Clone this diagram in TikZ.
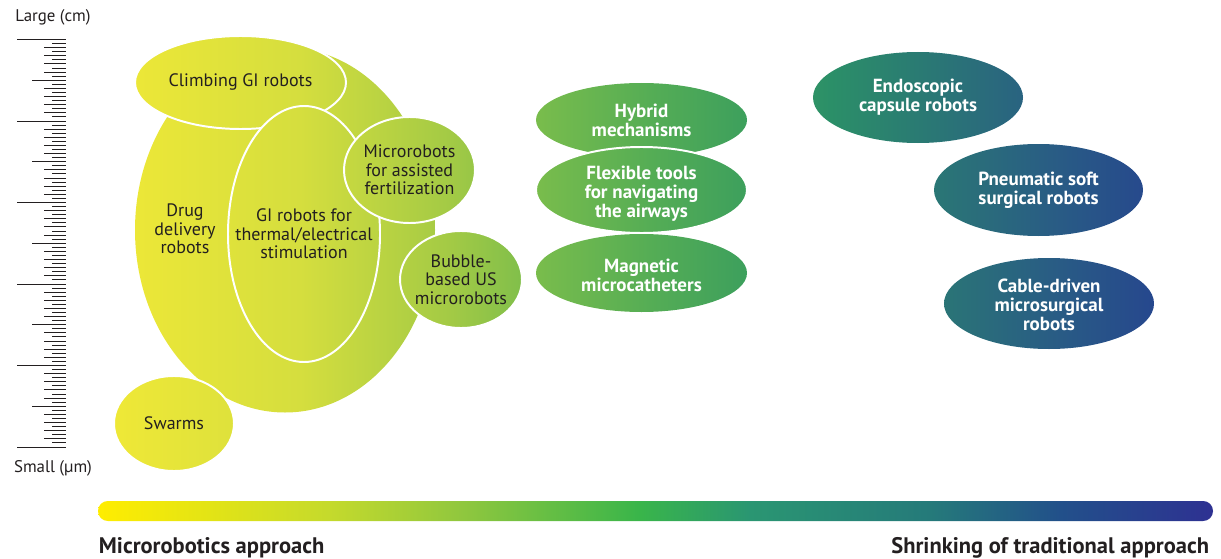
\documentclass[tikz,border=0pt]{standalone}
\usepackage{fontspec}
\setmainfont{PT Sans}
\usetikzlibrary{positioning}

\definecolor{ink}{HTML}{231F20}
% bottom scale bar
\definecolor{barA}{HTML}{FFED00}
\definecolor{barB}{HTML}{C5DA2C}
\definecolor{barC}{HTML}{90C73E}
\definecolor{barD}{HTML}{39B54A}
\definecolor{barE}{HTML}{2A9672}
\definecolor{barF}{HTML}{257A7A}
\definecolor{barG}{HTML}{22508A}
\definecolor{barH}{HTML}{2E3192}
% the ellipses, a bit softer
\definecolor{blobA}{HTML}{F1E936}
\definecolor{blobB}{HTML}{D5DE3E}
\definecolor{blobC}{HTML}{A3CA45}
\definecolor{blobD}{HTML}{78BC4C}
\definecolor{blobE}{HTML}{55AD55}
\definecolor{blobF}{HTML}{3C9F5D}
\definecolor{blobG}{HTML}{2B8F68}
\definecolor{blobH}{HTML}{2A7377}
\definecolor{blobI}{HTML}{295D84}
\definecolor{blobJ}{HTML}{26468E}

% x from 98 to 1213 is mapped onto 25bp..75bp
\pgfdeclarehorizontalshading{scalebar}{100bp}{color(0bp)=(barA); color(25bp)=(barA);
  color(35.31bp)=(barB); color(41.32bp)=(barC); color(49.30bp)=(barD);
  color(54.24bp)=(barE); color(62.31bp)=(barF); color(68.14bp)=(barG);
  color(75bp)=(barH); color(100bp)=(barH)}
\pgfdeclarehorizontalshading{blobs}{100bp}{color(0bp)=(blobA); color(25bp)=(blobA);
  color(34.06bp)=(blobB); color(40.78bp)=(blobC); color(44.82bp)=(blobD);
  color(49.75bp)=(blobE); color(54.24bp)=(blobF); color(57.83bp)=(blobG);
  color(63.21bp)=(blobH); color(67.69bp)=(blobI); color(72.62bp)=(blobJ);
  color(100bp)=(blobJ)}

\begin{document}
\begin{tikzpicture}[x=0.025cm, y=-0.025cm,
    dark text/.style={text=ink, align=center, font=\fontsize{12.8}{13.2}\selectfont},
    light text/.style={text=white, align=center, font=\bfseries\fontsize{13.5}{13.6}\selectfont},
    bottom text/.style={text=ink, font=\bfseries\fontsize{16}{18}\selectfont},
    tick/.style={line width=0.7pt, draw=ink}]
  \useasboundingbox (0,0) rectangle (1221,558);

  % size ruler
  \foreach \i in {0,...,100} {
    \pgfmathsetmacro\tx{ifthenelse(mod(\i,20)==0,17,ifthenelse(mod(\i,10)==0,32,ifthenelse(mod(\i,2)==0,44,52)))}
    \draw[tick] (\tx,39.5+\i*4.075) -- (66,39.5+\i*4.075);
  }
  \node[text=ink, font=\fontsize{12}{13}\selectfont] (large) at (53,17) {Large (cm)};
  \node[text=ink, font=\fontsize{12}{13}\selectfont] (small) at (53,468) {Small (µm)};

  % ellipses: centre x/y, radii, rim colour (back to front)
  \foreach \cx/\cy/\rx/\ry/\rim in {
      285/230/150/182.5/none,      % drug delivery
      240.5/82.5/105.5/46.5/white, % climbing
      304/234/76/128/white,        % thermal/electrical
      409.5/170/65.5/53/white,     % fertilization
      461/279.5/61/48.5/white,     % bubble
      174/423.5/60/47.5/white,     % swarms
      641.5/120/105.5/37/none,     % hybrid
      641.5/273/105.5/39/none,     % microcatheters
      641.5/190/105.5/43/white,    % airways
      918/97.5/105/45.5/none,      % capsule
      1038.5/190/104.5/46/none,    % pneumatic
      1049/303.5/105/45.5/none} {  % cable-driven
    \begin{scope}
      \clip (\cx,\cy) ellipse [x radius=\rx, y radius=\ry];
      \shade[shading=blobs] (98,0) rectangle (1213,558);
    \end{scope}
    \draw[draw=\rim, line width=1.4pt] (\cx,\cy) ellipse [x radius=\rx, y radius=\ry];
  }

  % labels
  \node[dark text] (drug) at (185,229) {Drug\\delivery\\robots};
  \node[dark text] (climb) at (240.5,82.5) {Climbing GI robots};
  \node[dark text] (gi) at (304,234) {GI robots for\\thermal/electrical\\stimulation};
  \node[dark text] (fert) at (409.5,170) {Microrobots\\for assisted\\fertilization};
  \node[dark text] (bubble) at (461,279.5) {Bubble-\\based US\\microrobots};
  \node[dark text] (swarm) at (174,423.5) {Swarms};

  \node[light text] (hybrid) at (641.5,120) {Hybrid\\mechanisms};
  \node[light text] (flex) at (641.5,194) {Flexible tools\\for navigating\\the airways};
  \node[light text] (magnet) at (641.5,275) {Magnetic\\microcatheters};

  \node[light text] (capsule) at (918,97) {Endoscopic\\capsule robots};
  \node[light text] (pneu) at (1038.5,190) {Pneumatic soft\\surgical robots};
  \node[light text] (cable) at (1049,305) {Cable-driven\\microsurgical\\robots};

  % approach bar
  \shade[shading=scalebar, rounded corners=7pt] (98,501) rectangle (1213,521);
  \node[bottom text, anchor=west] (micro) at (94,548) {Microrobotics approach};
  \node[bottom text, anchor=east] (shrink) at (1214,548) {Shrinking of traditional approach};
\end{tikzpicture}
\end{document}
